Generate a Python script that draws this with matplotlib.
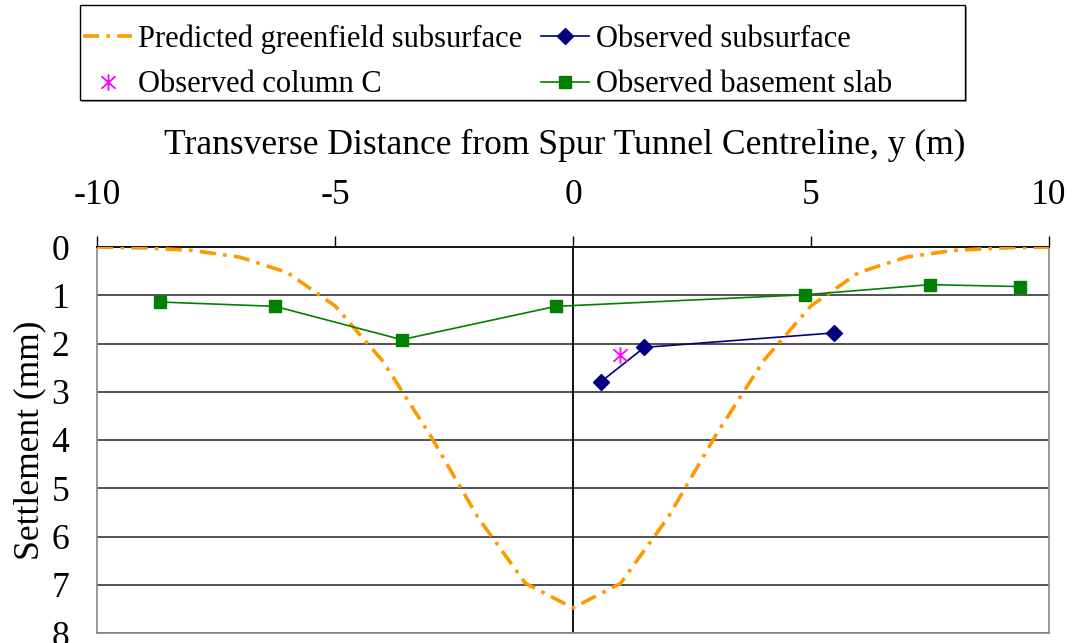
import matplotlib
matplotlib.use("Agg")
import matplotlib.pyplot as plt
from matplotlib.patches import Rectangle
from matplotlib.path import Path

plt.rcParams['font.family'] = ['Liberation Serif', 'DejaVu Serif']
plt.rcParams['axes.unicode_minus'] = False

# Predicted greenfield subsurface (x in m, settlement in mm)
pred_x = [-10, -9, -8, -7, -6, -5, -4, -3, -2, -1, 0, 1, 2, 3, 4, 5, 6, 7, 8, 9, 10]
pred_y = [0.0, 0.02, 0.07, 0.21, 0.53, 1.22, 2.36, 3.9, 5.6, 6.97, 7.48,
          6.97, 5.6, 3.9, 2.36, 1.22, 0.53, 0.21, 0.07, 0.02, 0.0]

# Observed subsurface
sub_x = [0.59, 1.5, 5.49]
sub_y = [2.79, 2.08, 1.78]

# Observed column C
col_x = [0.99]
col_y = [2.23]

# Observed basement slab
slab_x = [-8.68, -6.26, -3.6, -0.36, 4.87, 7.5, 9.39]
slab_y = [1.14, 1.23, 1.92, 1.23, 0.99, 0.78, 0.82]

xticks = [-10, -5, 0, 5, 10]
yticks = [0, 1, 2, 3, 4, 5, 6, 7, 8]

W, H = 1073, 643
fig = plt.figure(figsize=(W / 100, H / 100), dpi=100)
ax = fig.add_axes([97 / W, 1 - 633 / H, (1049 - 97) / W, (633 - 247) / H])

orange = '#FF9900'
green = '#008000'
navy = '#000080'
magenta = '#FF00FF'

# Excel-style star marker: vertical bar plus an X
star = Path([(0, -1), (0, 1), (-0.85, -0.75), (0.85, 0.75),
             (-0.85, 0.75), (0.85, -0.75)],
            [Path.MOVETO, Path.LINETO, Path.MOVETO, Path.LINETO,
             Path.MOVETO, Path.LINETO])

for yv in yticks[1:]:
    ax.axhline(yv, color='#333333', lw=1.2, zorder=1)
ax.axvline(0, color='black', lw=1.3, zorder=1)

l1, = ax.plot(pred_x, pred_y, color=orange, lw=2.6,
              dashes=(4.5, 2, 1, 2), zorder=3,
              label='Predicted greenfield subsurface')
l2, = ax.plot(sub_x, sub_y, color=navy, lw=1.2, marker='D', ms=8.5,
              zorder=4, label='Observed subsurface')
l3, = ax.plot(col_x, col_y, color=magenta, lw=0, marker=star, ms=12,
              mew=1.3, zorder=5, label='Observed column C')
l4, = ax.plot(slab_x, slab_y, color=green, lw=1.2, marker='s', ms=9,
              zorder=4, label='Observed basement slab')

ax.set_xlim(-10, 10)
ax.set_ylim(8, 0)
ax.set_xticks(xticks)
ax.set_yticks(yticks)
ax.xaxis.tick_top()
ax.xaxis.set_label_position('top')
ax.tick_params(axis='x', direction='out', length=8, width=1, color='black',
               labelsize=25.6, pad=17)
ax.tick_params(axis='y', length=0, labelsize=25.6, pad=20)
ax.set_xlabel('Transverse Distance from Spur Tunnel Centreline, y (m)',
              fontsize=25.6, labelpad=18)
ax.xaxis.label.set_x(0.4915)
ax.set_ylabel('Settlement (mm)', fontsize=25.6, labelpad=4)

for s in ['left', 'right', 'bottom']:
    ax.spines[s].set_color('#888888')
    ax.spines[s].set_linewidth(1.2)
ax.spines['top'].set_color('black')
ax.spines['top'].set_linewidth(1.3)

# legend frame (with a slight shadow along the bottom)
fig.add_artist(Rectangle((82 / W, 1 - 102 / H), (965 - 80) / W, 95 / H,
                         transform=fig.transFigure, facecolor='#999999',
                         edgecolor='none', zorder=0))
fig.add_artist(Rectangle((80 / W, 1 - 100 / H), (965 - 80) / W, 95 / H,
                         transform=fig.transFigure, facecolor='white',
                         edgecolor='black', lw=1.0, zorder=1))

leg = fig.legend(handles=[l1, l3, l2, l4], ncol=2, loc='upper left',
                 bbox_to_anchor=(80 / W, 1 - 21 / H),
                 fontsize=22, frameon=False, handlelength=1.6,
                 handletextpad=0.2, borderaxespad=0, labelspacing=0.55,
                 borderpad=0.1, columnspacing=0.6)
leg.set_zorder(2)

fig.savefig('out.png', dpi=100)
